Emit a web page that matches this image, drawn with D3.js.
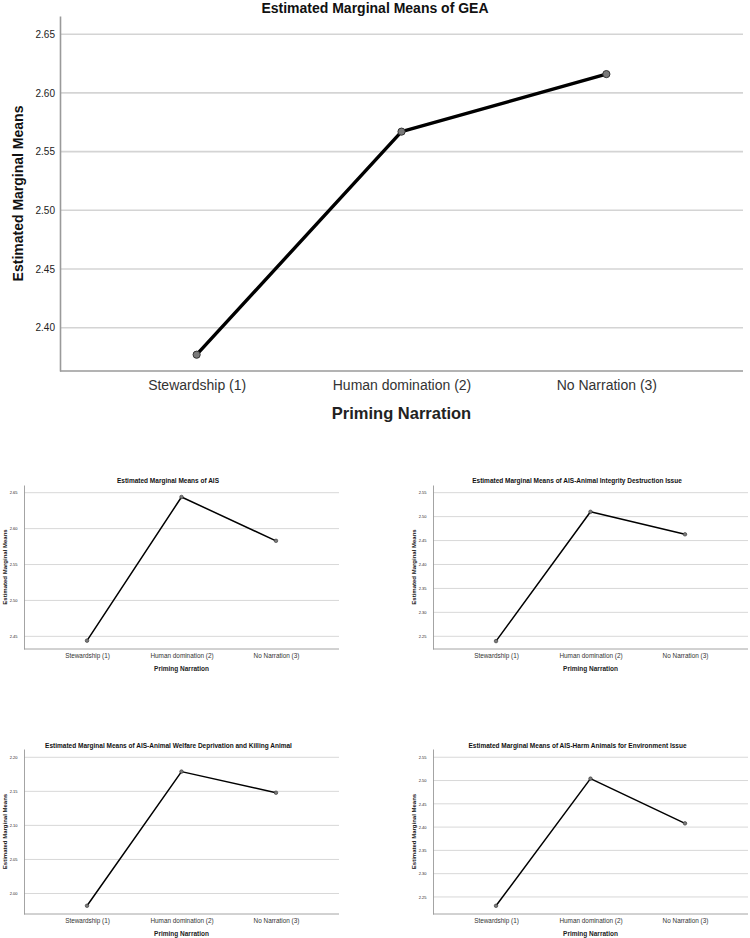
<!DOCTYPE html>
<html>
<head>
<meta charset="utf-8">
<script src="https://cdn.jsdelivr.net/npm/d3@7"></script>
<style>
  html, body { margin: 0; padding: 0; background: #fff; }
  svg { display: block; font-family: "Liberation Sans", Arial, sans-serif; }
</style>
</head>
<body>
<svg id="chart" width="750" height="938"></svg>
<script>
// ---------------- data ----------------
const categories = ["Stewardship (1)", "Human domination (2)", "No Narration (3)"];
const xAxisTitle = "Priming Narration";
const yAxisTitle = "Estimated Marginal Means";

const chartTitles = [
  "Estimated Marginal Means of GEA",
  "Estimated Marginal Means of AIS",
  "Estimated Marginal Means of AIS-Animal Integrity Destruction Issue",
  "Estimated Marginal Means of AIS-Animal Welfare Deprivation and Killing Animal",
  "Estimated Marginal Means of AIS-Harm Animals for Environment Issue"
];

const geaValues       = [2.377, 2.567, 2.616];
const aisValues       = [2.444, 2.644, 2.583];
const integrityValues = [2.240, 2.510, 2.463];
const welfareValues   = [1.982, 2.179, 2.148];
const harmValues      = [2.231, 2.504, 2.408];

const geaTicks       = [2.40, 2.45, 2.50, 2.55, 2.60, 2.65];
const aisTicks       = [2.45, 2.50, 2.55, 2.60, 2.65];
const integrityTicks = [2.25, 2.30, 2.35, 2.40, 2.45, 2.50, 2.55];
const welfareTicks   = [2.00, 2.05, 2.10, 2.15, 2.20];
const harmTicks      = [2.25, 2.30, 2.35, 2.40, 2.45, 2.50, 2.55];

const geaDomain       = [2.3631, 2.6655];
const aisDomain       = [2.4324, 2.6607];
const integrityDomain = [2.2235, 2.5660];
const welfareDomain   = [1.9699, 2.2122];
const harmDomain      = [2.2134, 2.5677];

// ---------------- layout ----------------
const big = { s: 2.17, lw: 3.4, r: 3.6, titleFs: 14, yTitleFs: 14, tickFs: 14, yTickFs: 10, xTitleFs: 16.5, grid: 1.6, axis: 1.6 };
const small = { s: 1, lw: 1.5, r: 1.8, titleFs: 6.5, yTitleFs: 6, tickFs: 6.4, yTickFs: 4, xTitleFs: 6.5, grid: 0.9, axis: 0.9 };

const panels = [
  { title: chartTitles[0], values: geaValues, ticks: geaTicks, domain: geaDomain,
    box: { l: 60, r: 743, t: 16, b: 371 }, titleX: 375, titleY: 12.5, st: big },
  { title: chartTitles[1], values: aisValues, ticks: aisTicks, domain: aisDomain,
    box: { l: 24, r: 339, t: 485, b: 649 }, titleX: 168, titleY: 482.5, st: small },
  { title: chartTitles[2], values: integrityValues, ticks: integrityTicks, domain: integrityDomain,
    box: { l: 433, r: 748, t: 485, b: 649 }, titleX: 577, titleY: 482.5, st: small },
  { title: chartTitles[3], values: welfareValues, ticks: welfareTicks, domain: welfareDomain,
    box: { l: 24, r: 339, t: 749, b: 914 }, titleX: 168.5, titleY: 747.5, st: small },
  { title: chartTitles[4], values: harmValues, ticks: harmTicks, domain: harmDomain,
    box: { l: 433, r: 748, t: 749, b: 914 }, titleX: 577.5, titleY: 747.5, st: small }
];

const svg = d3.select("#chart");

panels.forEach(p => {
  const st = p.st, b = p.box, k = st.s;
  const g = svg.append("g");

  const x = d3.scalePoint().domain(categories).range([b.l, b.r]).padding(0.667);
  const y = d3.scaleLinear().domain(p.domain).range([b.b, b.t]);

  // gridlines
  g.append("g").selectAll("line").data(p.ticks).join("line")
    .attr("x1", b.l).attr("x2", b.r)
    .attr("y1", d => y(d)).attr("y2", d => y(d))
    .attr("stroke", "#d4d4d4").attr("stroke-width", st.grid);

  // y axis
  const yAxis = d3.axisLeft(y).tickValues(p.ticks).tickFormat(d3.format(".2f")).tickSize(0).tickPadding(k > 1 ? 5 : 6.5);
  const ya = g.append("g").attr("transform", `translate(${b.l},0)`).call(yAxis);
  ya.select(".domain").attr("stroke", "#9a9a9a").attr("stroke-width", st.axis);
  ya.selectAll("text").attr("font-size", st.yTickFs).attr("fill", "#222").attr("font-family", "Liberation Sans, Arial, sans-serif");

  // x axis
  const xAxis = d3.axisBottom(x).tickSize(0).tickPadding(k > 1 ? 9.5 : 4.4);
  const xa = g.append("g").attr("transform", `translate(0,${b.b})`).call(xAxis);
  xa.select(".domain").attr("stroke", "#9a9a9a").attr("stroke-width", st.axis)
    .attr("d", `M${b.l},0H${b.r}`);
  xa.selectAll("text").attr("font-size", st.tickFs).attr("fill", "#333").attr("font-family", "Liberation Sans, Arial, sans-serif");

  // line
  const pts = categories.map((c, i) => [x(c), y(p.values[i])]);
  g.append("path").datum(pts)
    .attr("d", d3.line())
    .attr("fill", "none").attr("stroke", "#000").attr("stroke-width", st.lw)
    .attr("stroke-linejoin", "round");

  g.append("g").selectAll("circle").data(pts).join("circle")
    .attr("cx", d => d[0]).attr("cy", d => d[1]).attr("r", st.r)
    .attr("fill", "#7a7a7a").attr("stroke", "#333").attr("stroke-width", k > 1 ? 1 : 0.6);

  // titles
  g.append("text").attr("x", p.titleX).attr("y", p.titleY)
    .attr("text-anchor", "middle").attr("font-size", st.titleFs).attr("font-weight", "bold")
    .attr("fill", "#111").text(p.title);

  g.append("text").attr("x", (b.l + b.r) / 2).attr("y", b.b + 22.3 * k)
    .attr("text-anchor", "middle").attr("font-size", st.xTitleFs).attr("font-weight", "bold")
    .attr("fill", "#222").text(xAxisTitle);

  g.append("text")
    .attr("transform", `translate(${b.l - (k > 1 ? 37 : 17.5)},${(b.t + b.b) / 2}) rotate(-90)`)
    .attr("text-anchor", "middle").attr("font-size", st.yTitleFs).attr("font-weight", "bold")
    .attr("fill", "#111").text(yAxisTitle);
});
</script>
</body>
</html>
